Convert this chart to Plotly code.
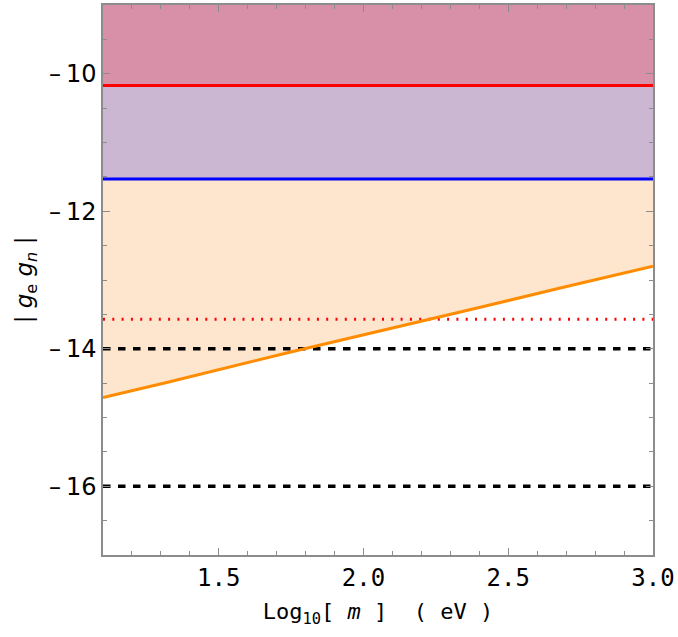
import plotly.graph_objects as go

# ---- data ----
x_orange = [1.1, 1.32, 1.745, 2.0, 2.233, 2.4, 2.676, 3.0]
y_orange = [-14.71, -14.49, -14.05, -13.80, -13.57, -13.40, -13.12, -12.80]
y_red_bound = -10.17
y_blue_bound = -11.53
y_red_dotted = -13.57
y_black_dashed = [-14.0, -16.0]
y_top = -9.0
x_range = [1.1, 3.0]
y_range = [-17.0, -9.0]
x_tickvals = [1.5, 2.0, 2.5, 3.0]
x_ticktext = ["1.5", "2.0", "2.5", "3.0"]
y_tickvals = [-16, -14, -12, -10]
y_ticktext = ["\u2013\u200916", "\u2013\u200914", "\u2013\u200912", "\u2013\u200910"]

n = len(x_orange)
fig = go.Figure()

# fills
fig.add_trace(go.Scatter(x=x_orange, y=y_orange, mode="lines",
                         line=dict(width=0, color="rgba(0,0,0,0)"), showlegend=False, hoverinfo="skip"))
fig.add_trace(go.Scatter(x=x_orange, y=[y_blue_bound] * n, mode="lines", fill="tonexty",
                         fillcolor="rgb(253,229,206)",
                         line=dict(width=0, color="rgba(0,0,0,0)"), showlegend=False, hoverinfo="skip"))
fig.add_trace(go.Scatter(x=x_orange, y=[y_red_bound] * n, mode="lines", fill="tonexty",
                         fillcolor="rgb(204,183,211)",
                         line=dict(width=0, color="rgba(0,0,0,0)"), showlegend=False, hoverinfo="skip"))
fig.add_trace(go.Scatter(x=x_orange, y=[y_top] * n, mode="lines", fill="tonexty",
                         fillcolor="rgb(215,144,168)",
                         line=dict(width=0, color="rgba(0,0,0,0)"), showlegend=False, hoverinfo="skip"))

# lines
fig.add_trace(go.Scatter(x=x_range, y=[y_red_dotted] * 2, mode="lines",
                         line=dict(color="rgb(255,0,0)", width=3, dash="2px,7.3px"), showlegend=False))
for yd in y_black_dashed:
    fig.add_trace(go.Scatter(x=x_range, y=[yd] * 2, mode="lines",
                             line=dict(color="black", width=3.5, dash="7.5px,7.5px"), showlegend=False))
fig.add_trace(go.Scatter(x=x_orange, y=y_orange, mode="lines",
                         line=dict(color="rgb(255,140,0)", width=3), showlegend=False))
fig.add_trace(go.Scatter(x=x_range, y=[y_blue_bound] * 2, mode="lines",
                         line=dict(color="rgb(0,0,255)", width=3), showlegend=False))
fig.add_trace(go.Scatter(x=x_range, y=[y_red_bound] * 2, mode="lines",
                         line=dict(color="rgb(255,0,0)", width=3), showlegend=False))

axis_color = "rgb(140,140,140)"
fig.update_layout(
    width=678, height=637,
    margin=dict(l=103, r=25, t=5, b=82, autoexpand=False),
    paper_bgcolor="white", plot_bgcolor="white",
    xaxis=dict(
        range=x_range, tickvals=x_tickvals, ticktext=x_ticktext, automargin=False,
        ticks="inside", ticklen=7, tickwidth=1, tickcolor=axis_color,
        showline=True, linecolor=axis_color, linewidth=1.5, mirror="allticks",
        showgrid=False, zeroline=False,
        tickfont=dict(family="DejaVu Sans Mono", size=24, color="black"),
        minor=dict(dtick=0.1, ticks="inside", ticklen=4, tickcolor=axis_color, showgrid=False),
        title=dict(text="Log<sub>10</sub>[ <i>m</i> ]  ( eV )",
                   font=dict(family="DejaVu Sans Mono", size=22, color="black"), standoff=13),
    ),
    yaxis=dict(
        range=y_range, tickvals=y_tickvals, ticktext=y_ticktext, automargin=False,
        ticks="inside", ticklen=7, tickwidth=1, tickcolor=axis_color,
        showline=True, linecolor=axis_color, linewidth=1.5, mirror="allticks",
        showgrid=False, zeroline=False,
        tickfont=dict(family="DejaVu Sans", size=24, color="black"),
        minor=dict(dtick=0.5, ticks="inside", ticklen=4, tickcolor=axis_color, showgrid=False),
        title=dict(text="| <i>g</i><sub>e</sub> <i>g<sub>n</sub></i> |",
                   font=dict(family="DejaVu Sans", size=23, color="black"), standoff=10),
    ),
)

fig.write_html("out.html", config={"displayModeBar": False},
               post_script="document.body.style.margin='0';document.body.style.overflow='hidden';")
